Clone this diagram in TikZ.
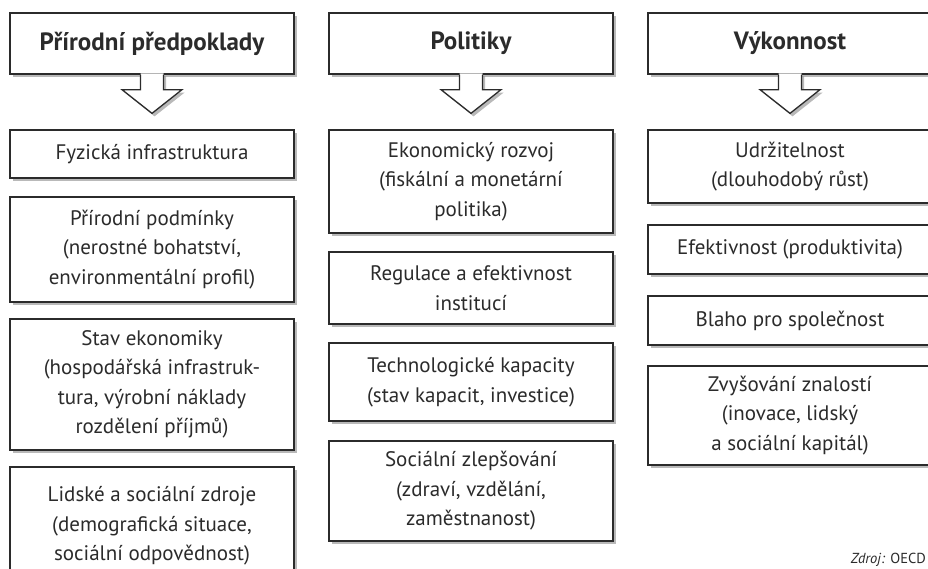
\documentclass[tikz,border=0pt]{standalone}
\usepackage{fontspec}
\setmainfont{PT Sans}
\usetikzlibrary{shadows,calc}
\definecolor{ink}{HTML}{2B2B2B}
\tikzset{
  shad/.style={drop shadow={shadow xshift=2.5pt, shadow yshift=-3pt, fill=black!50, opacity=.55}},
  box/.style={draw=ink, line width=1.3pt, fill=white, shad, align=center, text=ink,
     minimum width=284, inner sep=0pt, font=\fontsize{21}{29.5}\selectfont},
  head/.style={box, minimum height=61, font=\fontsize{25}{28}\selectfont\bfseries},
  arrowline/.style={draw=ink, line width=1.3pt},
}
\newcommand\blockarrow[2]{%
  \fill[white, shad] ($(#1.south)+(-11.5,-1.2)$) -- ++(0,16) -- ++(-18.5,0) -- ($(#2.north)+(0,-16)$)
     -- ($(#1.south)+(30,15)$) -- ++(-18.5,0) -- ++(0,-16.2) -- cycle;
  \draw[arrowline, line join=miter] ($(#1.south)+(-11.5,0)$) -- ++(0,15) -- ++(-18.5,0) -- ($(#2.north)+(0,-16)$)
     -- ($(#1.south)+(30,15)$) -- ++(-18.5,0) -- ++(0,-15);
}
\begin{document}
\begin{tikzpicture}[x=1pt,y=-1pt]
\clip (0,0) rectangle (928,568);
\fill[white] (0,0) rectangle (928,568);
% headers
\node[head] (h1) at (152,43.5) {Přírodní předpoklady};
\node[head] (h2) at (471,43.5) {Politiky};
\node[head] (h3) at (790,43.5) {Výkonnost};
% left column
\node[box, minimum height=48] (l1) at (152,154) {Fyzická infrastruktura};
\node[box, minimum height=105] (l2) at (152,249.5) {Přírodní podmínky\\(nerostné bohatství,\\environmentální profil)};
\node[box, minimum height=131] (l3) at (152,384.5) {Stav ekonomiky\\(hospodářská infrastruk-\\tura, výrobní náklady\\rozdělení příjmů)};
\node[box, minimum height=118] (l4) at (152,526) {Lidské a sociální zdroje\\(demografická situace,\\sociální odpovědnost)};
% middle column
\node[box, minimum height=103] (m1) at (471,181.5) {Ekonomický rozvoj\\(fiskální a monetární\\politika)};
\node[box, minimum height=72] (m2) at (471,288) {Regulace a efektivnost\\institucí};
\node[box, minimum height=78] (m3) at (471,382) {Technologické kapacity\\(stav kapacit, investice)};
\node[box, minimum height=100] (m4) at (471,491) {Sociální zlepšování\\(zdraví, vzdělání,\\zaměstnanost)};
% right column
\node[box, minimum height=73] (r1) at (790,166.5) {Udržitelnost\\(dlouhodobý růst)};
\node[box, minimum height=49] (r2) at (790,249.5) {Efektivnost (produktivita)};
\node[box, minimum height=49] (r3) at (790,320.5) {Blaho pro společnost};
\node[box, minimum height=99] (r4) at (790,415.5) {Zvyšování znalostí\\(inovace, lidský\\a sociální kapitál)};
% arrows
\blockarrow{h1}{l1}
\blockarrow{h2}{m1}
\blockarrow{h3}{r1}
% source
\node[anchor=base east, text=ink, inner sep=0pt, font=\fontsize{14.5}{17}\selectfont] (src) at (926,563) {\textit{Zdroj:} OECD};
\end{tikzpicture}
\end{document}
